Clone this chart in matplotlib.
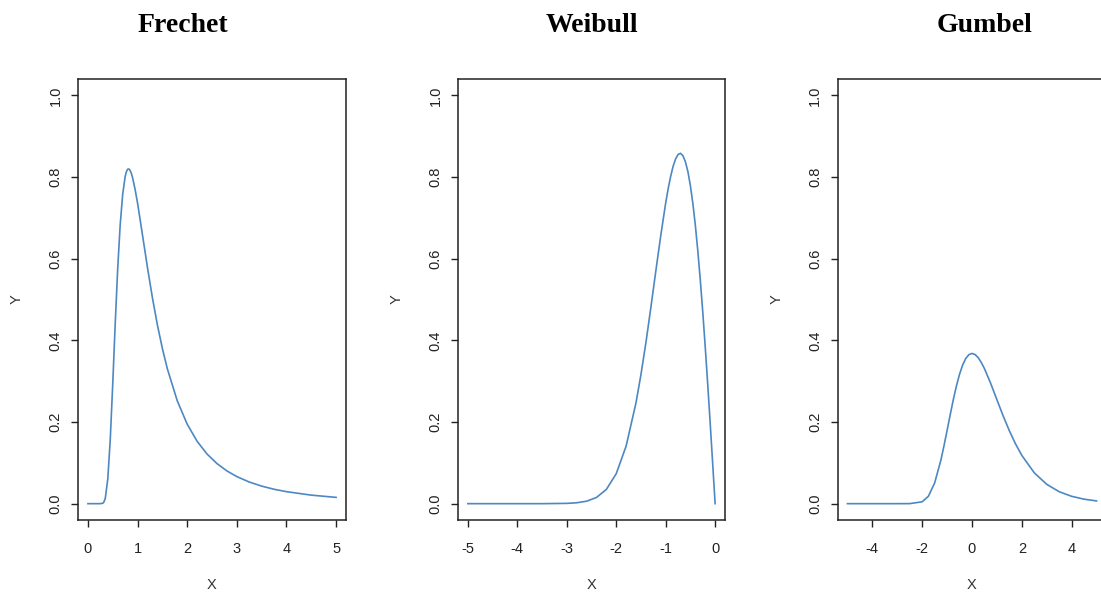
import matplotlib
matplotlib.use('Agg')
import matplotlib.pyplot as plt

# Valores (densidades de valores extremos)
frechet_x = [0.0, 0.2, 0.25, 0.3, 0.32, 0.35, 0.4, 0.45, 0.5, 0.55, 0.6, 0.65, 0.7, 0.75,
             0.775, 0.8, 0.825, 0.85, 0.875, 0.9, 0.95, 1.0, 1.1, 1.2, 1.3, 1.4, 1.5, 1.6,
             1.8, 2.0, 2.2, 2.4, 2.6, 2.8, 3.0, 3.25, 3.5, 3.75, 4.0, 4.5, 5.0]
frechet_y = [0.0, 0.0, 0.0, 0.0011, 0.0035, 0.0133, 0.0603, 0.1574, 0.293, 0.441, 0.576, 0.683,
             0.757, 0.801, 0.813, 0.819, 0.8196, 0.816, 0.809, 0.798, 0.770, 0.736, 0.6575,
             0.578, 0.5038, 0.4376, 0.380, 0.3304, 0.2519, 0.1947, 0.1528, 0.1216, 0.0982,
             0.0802, 0.0663, 0.0530, 0.0430, 0.0353, 0.0294, 0.0209, 0.0154]

weibull_x = [-5.0, -4.0, -3.5, -3.0, -2.8, -2.6, -2.4, -2.2, -2.0, -1.8, -1.6, -1.5, -1.4,
             -1.3, -1.2, -1.1, -1.0, -0.95, -0.9, -0.85, -0.8, -0.75, -0.7, -0.65, -0.6,
             -0.55, -0.5, -0.45, -0.4, -0.35, -0.3, -0.25, -0.2, -0.15, -0.1, -0.05, 0.0]
weibull_y = [0.0, 0.0, 0.0, 0.0007, 0.0022, 0.0060, 0.0151, 0.0348, 0.0733, 0.141, 0.247,
             0.316, 0.394, 0.480, 0.569, 0.656, 0.736, 0.771, 0.801, 0.826, 0.844, 0.855,
             0.858, 0.852, 0.837, 0.813, 0.7788, 0.735, 0.682, 0.619, 0.548, 0.470, 0.384,
             0.2933, 0.198, 0.0998, 0.0]

gumbel_x = [-5.0, -4.0, -3.0, -2.5, -2.0, -1.75, -1.5, -1.25, -1.125, -1.0, -0.875, -0.75,
            -0.625, -0.5, -0.375, -0.25, -0.125, 0.0, 0.125, 0.25, 0.375, 0.5, 0.75, 1.0,
            1.25, 1.5, 1.75, 2.0, 2.5, 3.0, 3.5, 4.0, 4.5, 5.0]
gumbel_y = [0.0, 0.0, 0.0, 0.0001, 0.0046, 0.0182, 0.0507, 0.1064, 0.1416, 0.1794, 0.2178,
            0.2549, 0.2885, 0.3170, 0.3396, 0.3556, 0.3649, 0.3679, 0.3651, 0.3575, 0.3456,
            0.3307, 0.2945, 0.2546, 0.2151, 0.1785, 0.1461, 0.1182, 0.0756, 0.0474, 0.0293,
            0.0180, 0.0110, 0.0067]

titulos = ['Frechet', 'Weibull', 'Gumbel']
y_ticks = [0.0, 0.2, 0.4, 0.6, 0.8, 1.0]
x_ticks = [[0, 1, 2, 3, 4, 5], [-5, -4, -3, -2, -1, 0], [-4, -2, 0, 2, 4]]
x_lims = [(-0.2, 5.2), (-5.2, 0.2), (-5.4, 5.4)]

# Posiciones en píxeles (imagen de 1101x592)
W, H = 1101, 592
cajas = [(78, 346), (458, 725), (837.5, 1106.5)]
centros_titulo = [183, 592, 985]
LINEA = '#4d88c2'

plt.rcParams['font.family'] = ['Liberation Sans', 'DejaVu Sans']

fig = plt.figure(figsize=(W / 100, H / 100), dpi=100)
series = [(frechet_x, frechet_y), (weibull_x, weibull_y), (gumbel_x, gumbel_y)]

for i, (xs, ys) in enumerate(series):
    izq, der = cajas[i]
    ax = fig.add_axes([izq / W, 1 - 520 / H, (der - izq) / W, 441 / H])
    ax.plot(xs, ys, color=LINEA, lw=1.2)
    ax.set_xlim(*x_lims[i])
    ax.set_ylim(-0.04, 1.04)
    ax.set_xticks(x_ticks[i])
    ax.set_xticklabels([str(t) for t in x_ticks[i]])
    ax.set_yticks(y_ticks)
    ax.set_yticklabels([f"{t:.1f}" for t in y_ticks], rotation=90, va='center')
    ax.tick_params(length=5, width=1, labelsize=10.5, colors='#222222')
    ax.tick_params(axis='x', pad=11)
    ax.tick_params(axis='y', pad=6)
    for sp in ax.spines.values():
        sp.set_linewidth(1.1)
        sp.set_color('#222222')
    ax.set_xlabel('X', fontsize=10.5, color='#333333')
    ax.xaxis.set_label_coords(0.5, (520 - 578) / 441)
    ax.set_ylabel('Y', fontsize=10.5, color='#333333')
    ax.yaxis.set_label_coords(-54 / (der - izq), 0.5)
    fig.text(centros_titulo[i] / W, 1 - 25 / H, titulos[i], ha='center', va='center',
             fontsize=20, fontweight='bold', family='Liberation Serif')

fig.savefig('out.png', dpi=100)
